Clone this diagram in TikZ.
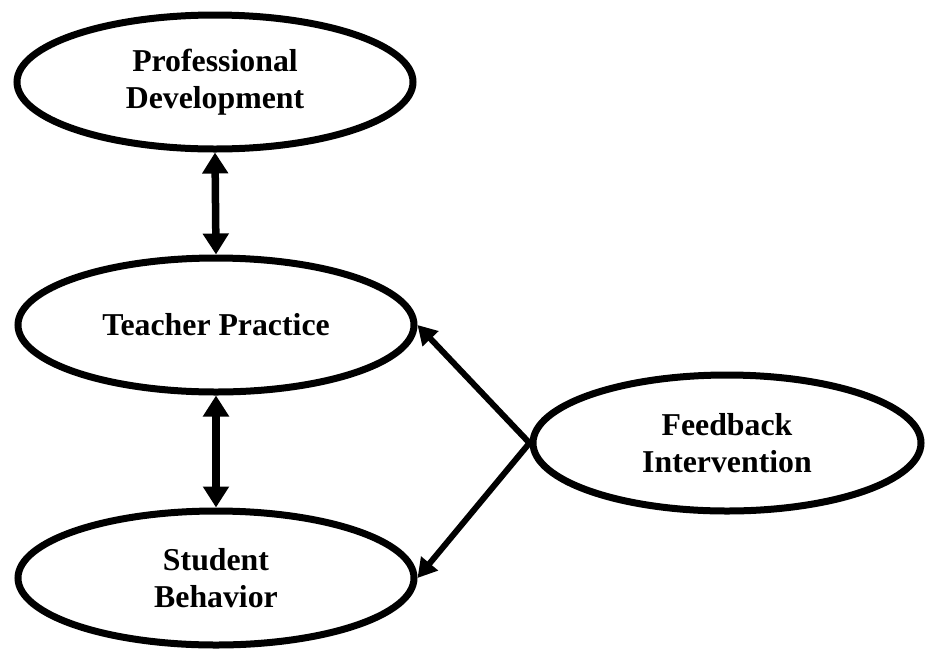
\documentclass[tikz,border=0pt]{standalone}
\usepackage{fontspec}
\setmainfont{Liberation Serif}
\usetikzlibrary{shapes.geometric,arrows.meta}
\begin{document}
\begin{tikzpicture}[x=1pt,y=-1pt,
  oval/.style={draw=black, ellipse, line width=7pt, inner sep=0pt,
    minimum width=396pt, minimum height=134pt, align=center,
    font=\bfseries\fontsize{31.8}{36.5}\selectfont},
  vlink/.style={line width=7.5pt, {Triangle[width=25pt,length=21pt]}-{Triangle[width=25pt,length=21pt]}},
  dlink/.style={line width=6pt, -{Triangle[width=21pt,length=19pt]}}]
\useasboundingbox (0,0) rectangle (934,649);
\node[oval] (pd) at (215,82) {Professional\\Development};
\node[oval] (tp) at (216,325) {Teacher Practice};
\node[oval] (sb) at (216,578) {Student\\Behavior};
\node[oval, minimum width=388pt, minimum height=136pt] (fi) at (727,443) {Feedback\\Intervention};
\draw[vlink] (pd.south) -- (tp.north);
\draw[vlink] (tp.south) -- (sb.north);
\draw[dlink] (fi.west) -- (tp.east);
\draw[dlink] (fi.west) -- (sb.east);
\end{tikzpicture}
\end{document}
